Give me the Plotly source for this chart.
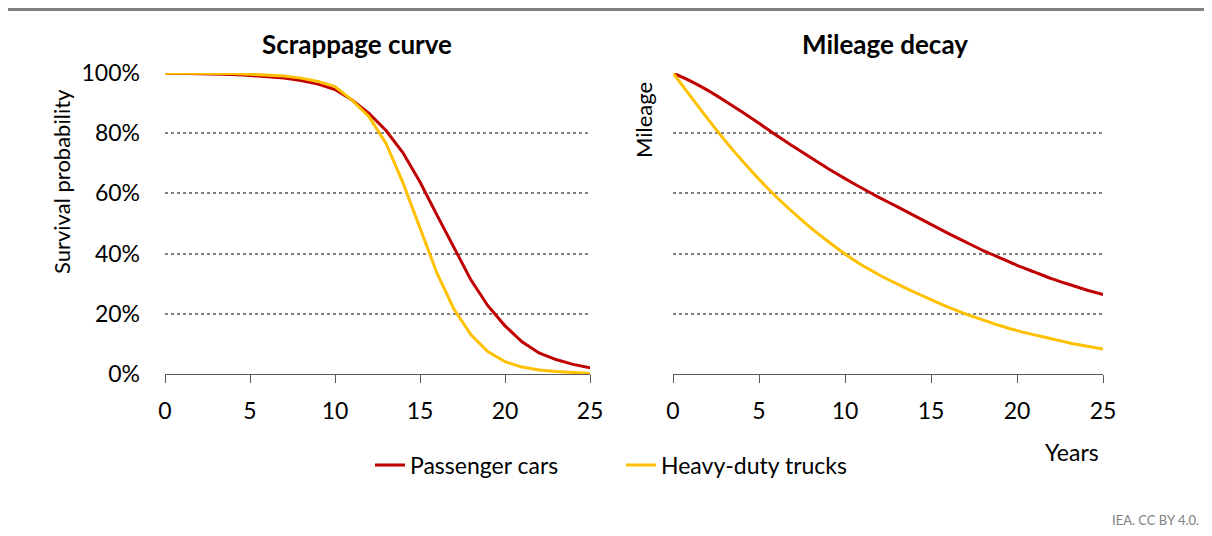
import plotly.graph_objects as go

# page has an 8px body margin, so the figure is drawn offset by (8, 8)
OFF = 8
W, H = 1212 - OFF, 536 - OFF

years = list(range(26))
scrap_cars = [100, 99.9, 99.8, 99.7, 99.5, 99.2, 98.8, 98.3, 97.5, 96.3, 94.5, 91.0, 86.6,
              80.9, 73.5, 63.8, 52.8, 41.8, 31.2, 22.6, 16.0, 10.7, 7.0, 4.8, 3.2, 2.1]
scrap_trucks = [100, 100, 99.9, 99.9, 99.8, 99.6, 99.4, 99.0, 98.3, 97.2, 95.5, 91.0, 85.5,
                76.6, 63.5, 48.5, 33.5, 21.5, 13.0, 7.4, 4.1, 2.3, 1.3, 0.8, 0.4, 0.2]
mileage_cars = [100, 97.4, 94.3, 90.8, 87.1, 83.3, 79.3, 75.6, 71.9, 68.3, 64.9, 61.7, 58.6,
                55.7, 52.7, 49.7, 46.7, 43.9, 41.1, 38.6, 36.1, 33.9, 31.7, 29.8, 28.0, 26.4]
mileage_trucks = [100, 92.4, 84.9, 77.7, 71.0, 64.7, 58.9, 53.6, 48.6, 44.1, 39.9, 36.1, 32.9,
                  30.0, 27.3, 24.7, 22.2, 20.0, 18.0, 16.1, 14.4, 13.0, 11.7, 10.4, 9.3, 8.3]

RED = "#C00000"
YELLOW = "#FFC000"
FONT = "Lato"

def px(x):
    return (x - OFF) / W

def py(y):
    return 1 - (y - OFF) / H

fig = go.Figure()
fig.add_trace(go.Scatter(x=years, y=[v / 100 for v in scrap_cars], mode="lines",
                         line=dict(color=RED, width=3), name="Passenger cars",
                         xaxis="x", yaxis="y"))
fig.add_trace(go.Scatter(x=years, y=[v / 100 for v in scrap_trucks], mode="lines",
                         line=dict(color=YELLOW, width=3), name="Heavy-duty trucks",
                         xaxis="x", yaxis="y"))
fig.add_trace(go.Scatter(x=years, y=[v / 100 for v in mileage_cars], mode="lines",
                         line=dict(color=RED, width=3, shape="spline", smoothing=0.6),
                         showlegend=False, xaxis="x2", yaxis="y2"))
fig.add_trace(go.Scatter(x=years, y=[v / 100 for v in mileage_trucks], mode="lines",
                         line=dict(color=YELLOW, width=3, shape="spline", smoothing=0.6),
                         showlegend=False, xaxis="x2", yaxis="y2"))

xax = dict(range=[0, 25], tickvals=[0, 5, 10, 15, 20, 25], showgrid=False, zeroline=False,
           showline=True, linecolor="#595959", linewidth=1, ticks="outside", ticklen=8,
           tickcolor="#595959", tickfont=dict(size=23, color="#000"), ticklabelstandoff=8,
           automargin=False)
yax = dict(range=[0, 1], tickvals=[0, 0.2, 0.4, 0.6, 0.8, 1.0], showgrid=True,
           gridcolor="#808080", gridwidth=2, griddash="dot", zeroline=False, showline=False,
           ticks="", tickfont=dict(size=23, color="#000"), automargin=False)

def note(text, x, y, size, **kw):
    d = dict(text=text, x=px(x), y=py(y), xref="paper", yref="paper", showarrow=False,
             xanchor="center", yanchor="middle", font=dict(size=size))
    d.update(kw)
    return d

fig.update_layout(
    width=W, height=H,
    margin=dict(l=0, r=0, t=0, b=0, autoexpand=False),
    paper_bgcolor="white", plot_bgcolor="white",
    font=dict(family=FONT, color="#000"),
    xaxis=dict(xax, domain=[px(165), px(590)], anchor="y"),
    yaxis=dict(yax, domain=[py(374), py(73)], anchor="x", tickformat=".0%",
               ticklabelstandoff=24),
    xaxis2=dict(xax, domain=[px(673), px(1103)], anchor="y2"),
    yaxis2=dict(yax, domain=[py(374), py(73)], anchor="x2", showticklabels=False),
    legend=dict(orientation="h", x=px(370), y=py(465), xanchor="left", yanchor="middle",
                font=dict(size=23), entrywidth=206, entrywidthmode="pixels",
                bgcolor="rgba(0,0,0,0)"),
    shapes=[dict(type="line", xref="paper", yref="paper", x0=0, x1=1, y0=py(9.5), y1=py(9.5),
                 line=dict(color="#808080", width=3))],
    annotations=[
        note("<b>Scrappage curve</b>", 357, 44, 26),
        note("<b>Mileage decay</b>", 885, 44, 26),
        note("Survival probability", 61, 181, 22, textangle=-90),
        note("Mileage", 643, 80, 22, textangle=-90, yanchor="top"),
        note("Years", 1072, 452, 23),
        note("IEA. CC BY 4.0.", 1201, 520, 13, xanchor="right",
             font=dict(size=13, color="#808080")),
    ],
)

fig.write_html("out.html")
